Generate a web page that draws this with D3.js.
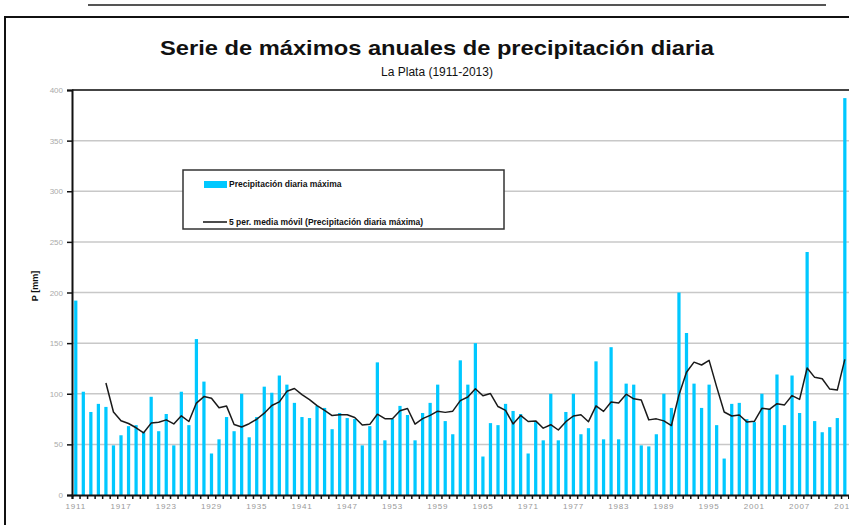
<!DOCTYPE html>
<html>
<head>
<meta charset="utf-8">
<script src="https://cdn.jsdelivr.net/npm/d3@7"></script>
<style>
  html, body { margin: 0; padding: 0; background: #fff; }
  svg { display: block; }
</style>
</head>
<body>
<svg id="chart" width="849" height="525"></svg>
<script>
// ---- data ----
const years = d3.range(1911, 2014);
const maxDaily = [
  192, 102, 82, 90, 87, 49, 59, 68, 69, 62,
  97, 63, 80, 49, 102, 69, 154, 112, 41, 55,
  77, 63, 100, 57, 77, 107, 101, 118, 109, 91,
  77, 76, 88, 86, 65, 81, 76, 75, 49, 68,
  131, 54, 75, 88, 79, 54, 81, 91, 109, 73,
  60, 133, 109, 150, 38, 71, 69, 90, 83, 80,
  41, 72, 54, 100, 54, 82, 100, 60, 66, 132,
  55, 146, 55, 110, 109, 49, 48, 60, 100, 86,
  200, 160, 110, 86, 109, 69, 36, 90, 91, 75,
  72, 100, 85, 119, 69, 118, 81, 240, 73, 62,
  67, 76, 392
];
// 5-period moving average, 1915-2013
const maYears = d3.range(1915, 2014);
const movingAvg = [
  110.6, 82.0, 73.4, 70.6, 66.4, 61.4, 71.0, 71.8, 74.2, 70.2,
  78.2, 72.6, 90.8, 97.2, 95.6, 86.2, 87.8, 69.6, 67.2, 70.4,
  74.8, 80.8, 88.4, 92.0, 102.4, 105.2, 99.2, 94.2, 88.2, 83.6,
  78.4, 79.2, 79.2, 76.6, 69.2, 69.8, 79.8, 75.4, 75.4, 83.2,
  85.4, 70.0, 75.4, 78.6, 82.8, 81.6, 82.8, 93.2, 96.8, 105.0,
  98.0, 100.2, 87.4, 83.6, 70.2, 78.6, 72.6, 73.2, 66.0, 69.4,
  64.2, 72.4, 78.0, 79.2, 72.4, 88.0, 82.6, 91.8, 90.8, 99.6,
  95.0, 93.8, 74.2, 75.2, 73.2, 68.6, 98.8, 121.2, 131.2, 128.4,
  133.0, 106.8, 82.0, 78.0, 79.0, 72.2, 72.8, 85.6, 84.6, 90.2,
  89.0, 98.2, 94.4, 125.4, 116.2, 114.8, 104.6, 103.6, 134.0
];
const yTicks = [0, 50, 100, 150, 200, 250, 300, 350, 400];
const xLabelYears = d3.range(1911, 2014, 6);

const title = "Serie de máximos anuales de precipitación diaria";
const subtitle = "La Plata (1911-2013)";
const yTitle = "P [mm]";
const legendBars = "Precipitación diaria máxima";
const legendLine = "5 per. media móvil (Precipitación diaria máxima)";

// ---- layout ----
const svg = d3.select("#chart");
const pLeft = 72, pRight = 848.6, pTop = 90, pBottom = 495;

const x = d3.scaleBand().domain(years).range([pLeft, pRight])
  .paddingInner(0.57).paddingOuter(0.285);
const xb = d3.scaleLinear().domain([0, years.length]).range([pLeft, pRight]);
const y = d3.scaleLinear().domain([0, 400]).range([pBottom, pTop]);

// outer decoration
svg.append("line").attr("x1", 88).attr("x2", 826).attr("y1", 5).attr("y2", 5)
  .attr("stroke", "#555").attr("stroke-width", 2);
svg.append("path").attr("d", "M5,525 L5,17 L849,17")
  .attr("fill", "none").attr("stroke", "#111").attr("stroke-width", 2);

// title
svg.append("text").attr("x", 437).attr("y", 55).attr("text-anchor", "middle")
  .attr("font-family", "Liberation Sans, Arial, sans-serif").attr("font-weight", "bold")
  .attr("font-size", 21).attr("fill", "#111")
  .attr("textLength", 554).attr("lengthAdjust", "spacingAndGlyphs")
  .text(title);
svg.append("text").attr("x", 437).attr("y", 76).attr("text-anchor", "middle")
  .attr("font-family", "Liberation Sans, Arial, sans-serif")
  .attr("font-size", 12).attr("fill", "#111")
  .text(subtitle);

// gridlines
svg.append("g").selectAll("line").data(yTicks.filter(d => d > 0)).join("line")
  .attr("x1", pLeft).attr("x2", 849)
  .attr("y1", d => y(d)).attr("y2", d => y(d))
  .attr("stroke", d => d === 400 ? "#444" : "#c8c8c8")
  .attr("stroke-width", d => d === 400 ? 2 : 1.5);

// bars
svg.append("g").selectAll("rect").data(years).join("rect")
  .attr("x", (d) => x(d))
  .attr("width", x.bandwidth())
  .attr("y", (d, i) => y(maxDaily[i]))
  .attr("height", (d, i) => y(0) - y(maxDaily[i]))
  .attr("fill", "#00c8ff");

// moving average line
const line = d3.line()
  .x((d, i) => x(maYears[i]) + x.bandwidth() / 2)
  .y(d => y(d));
svg.append("path").datum(movingAvg).attr("d", line)
  .attr("fill", "none").attr("stroke", "#1a1a1a").attr("stroke-width", 1.5)
  .attr("stroke-linejoin", "round");

// y axis
const yAxis = svg.append("g").attr("transform", `translate(${pLeft},0)`)
  .call(d3.axisLeft(y).tickValues(yTicks).tickSize(5).tickPadding(4));
yAxis.select(".domain").attr("stroke", "#111").attr("stroke-width", 2);
yAxis.selectAll(".tick line").attr("stroke", "#111").attr("stroke-width", 1.5);
yAxis.selectAll(".tick text").attr("font-family", "Liberation Sans, Arial, sans-serif")
  .attr("font-size", 8).attr("fill", "#aaa");

// x axis: tick marks on category boundaries
const xTicks = svg.append("g").attr("transform", `translate(0,${pBottom})`)
  .call(d3.axisBottom(xb).tickValues(d3.range(0, years.length + 1)).tickSize(4).tickFormat(""));
xTicks.select(".domain").attr("stroke", "#111").attr("stroke-width", 2);
xTicks.selectAll(".tick line").attr("stroke", "#111").attr("stroke-width", 1.5);

// x axis labels
const xLab = svg.append("g").attr("transform", `translate(0,${pBottom})`)
  .call(d3.axisBottom(x).tickValues(xLabelYears).tickSize(0).tickPadding(8));
xLab.select(".domain").remove();
xLab.selectAll(".tick text").attr("font-family", "Liberation Sans, Arial, sans-serif")
  .attr("font-size", 8).attr("fill", "#999").attr("letter-spacing", 0.8);

// y title
svg.append("text").attr("transform", "translate(38,286) rotate(-90)")
  .attr("text-anchor", "middle")
  .attr("font-family", "Liberation Sans, Arial, sans-serif").attr("font-weight", "bold")
  .attr("font-size", 9).attr("fill", "#111")
  .text(yTitle);

// legend
const lg = svg.append("g");
lg.append("rect").attr("x", 183).attr("y", 170).attr("width", 321).attr("height", 59)
  .attr("fill", "#fff").attr("stroke", "#333").attr("stroke-width", 1.5);
lg.append("rect").attr("x", 204).attr("y", 181).attr("width", 23).attr("height", 7)
  .attr("fill", "#00c8ff");
lg.append("text").attr("x", 229).attr("y", 187)
  .attr("font-family", "Liberation Sans, Arial, sans-serif").attr("font-weight", "bold")
  .attr("font-size", 8.5).attr("fill", "#111").text(legendBars);
lg.append("line").attr("x1", 203).attr("x2", 227).attr("y1", 222).attr("y2", 222)
  .attr("stroke", "#111").attr("stroke-width", 1.5);
lg.append("text").attr("x", 229).attr("y", 225)
  .attr("font-family", "Liberation Sans, Arial, sans-serif").attr("font-weight", "bold")
  .attr("font-size", 8.5).attr("fill", "#111").text(legendLine);
</script>
</body>
</html>
